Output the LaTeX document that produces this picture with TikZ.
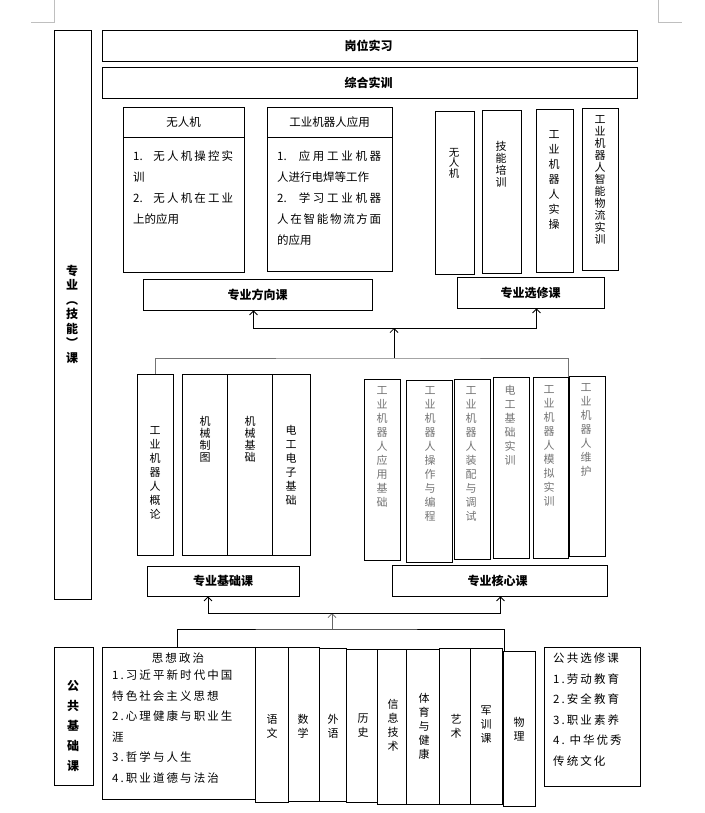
\documentclass[tikz,border=0pt]{standalone}
\usepackage{fontspec}
\setmainfont{Noto Sans CJK SC}
\usetikzlibrary{positioning,fit,arrows.meta}
\XeTeXlinebreaklocale "zh"
\XeTeXlinebreakskip=0pt plus 1pt

\begin{document}
\begin{tikzpicture}[x=1pt, y=-1pt,
cell/.style={draw, line width=0.8pt, inner sep=0pt},
ttl/.style={inner sep=0pt, font=\fontsize{12}{14}\selectfont\bfseries},
hd/.style={inner sep=0pt, font=\fontsize{11.5}{14}\selectfont},
vt/.style={align=center, inner sep=0pt, font=\fontsize{11}{14}\selectfont},
vts/.style={vt, font=\fontsize{11}{12}\selectfont},
core/.style={vt, text=black!55},
lst/.style={anchor=north west, inner sep=0pt, text width=102pt, align=justify, font=\fontsize{11.5}{21}\selectfont},
spf/.style={font=\fontsize{11.5}{20.5}\selectfont\addfontfeature{LetterSpace=18}},
spc/.style={spf, anchor=north west, inner sep=0pt, align=left},
link/.style={line width=0.8pt},
>={Straight Barb[length=4pt,width=8pt]},
]
\useasboundingbox (0,0) rectangle (704,813);

% page corner marks
\draw[black!25] (31,22) -- (54,22) -- (54,0);
\draw[black!25] (658,0) -- (658,22) -- (682,22);

% side labels
\node[cell, fit={(54,30) (91,599)}] (zyk) {};
\node[align=center, inner sep=0pt, font=\fontsize{12}{14.5}\selectfont\bfseries] (zyk-t) at (72,314) {专\\业\\︵\\技\\能\\︶\\课};
\node[cell, fit={(54,647) (93,785)}] (ggjc) {};
\node[align=center, inner sep=0pt, font=\fontsize{12}{20}\selectfont\bfseries] (ggjc-t) at (73,726) {公\\共\\基\\础\\课};

% top rows
\node[cell, fit={(102,30) (637,61)}] (gwsx) {};
\node[ttl] (gwsx-t) at ([xshift=-1pt]gwsx.center) {岗位实习};
\node[cell, fit={(102,67) (637,98)}] (zhsx) {};
\node[ttl] (zhsx-t) at ([xshift=-1pt]zhsx.center) {综合实训};

% direction courses
\node[cell, fit={(123,107) (244,137)}] (wrj) {};
\node[hd] (wrj-t) at (wrj.center) {无人机};
\node[cell, fit={(123,137) (244,272)}] (wrjnr) {};
\node[lst, text width=100pt] (wrjnr-t) at (133,151) {1.\ \ 无人机操控实\linebreak 训\\2.\ \ 无人机在工业\linebreak 上的应用};
\node[cell, fit={(267,107) (392,137)}] (gyyy) {};
\node[hd] (gyyy-t) at (gyyy.center) {工业机器人应用};
\node[cell, fit={(267,137) (392,271)}] (gyyynr) {};
\node[lst, text width=104pt] (gyyynr-t) at (277,151) {1.\ \ 应用工业机器\linebreak 人进行电焊等工作\\2.\ \ 学习工业机器\linebreak 人在智能物流方面\linebreak 的应用};
\node[cell, fit={(143,279) (372,310)}] (fxk) {};
\node[ttl] (fxk-t) at (fxk.center) {专业方向课};

% elective courses
\node[cell, fit={(435,111) (474,274)}] (xx1) {};
\node[vt, font=\fontsize{10.5}{10.5}\selectfont] (xx1-t) at (454,163) {无\\人\\机};
\node[cell, fit={(482,110) (521,273)}] (xx2) {};
\node[vts] (xx2-t) at (501,164) {技\\能\\培\\训};
\node[cell, fit={(536,109) (573,272)}] (xx3) {};
\node[vt, font=\fontsize{11}{15}\selectfont] (xx3-t) at (554,180) {工\\业\\机\\器\\人\\实\\操};
\node[cell, fit={(582,108) (618,270)}] (xx4) {};
\node[vts] (xx4-t) at (600,180) {工\\业\\机\\器\\人\\智\\能\\物\\流\\实\\训};
\node[cell, fit={(457,277) (604,308)}] (xxk) {};
\node[ttl] (xxk-t) at (xxk.center) {专业选修课};

% basic courses
\node[cell, fit={(137,374) (173,555)}] (jc1) {};
\node[vt] (jc1-t) at (155,473) {工\\业\\机\\器\\人\\概\\论};
\node[cell, fit={(182,374) (227,555)}] (jc2) {};
\node[vts] (jc2-t) at (205,439) {机\\械\\制\\图};
\node[cell, fit={(227,374) (272,555)}] (jc3) {};
\node[vts] (jc3-t) at (250,439) {机\\械\\基\\础};
\node[cell, fit={(272,374) (310,555)}] (jc4) {};
\node[vt] (jc4-t) at (291,465) {电\\工\\电\\子\\基\\础};
\node[cell, fit={(147,566) (299,596)}] (jck) {};
\node[ttl] (jck-t) at (jck.center) {专业基础课};

% core courses
\node[cell, fit={(364,379) (400,560)}] (hx1) {};
\node[core] (hx1-t) at (382,447) {工\\业\\机\\器\\人\\应\\用\\基\\础};
\node[cell, fit={(406,380) (452,562)}] (hx2) {};
\node[core] (hx2-t) at (430,454) {工\\业\\机\\器\\人\\操\\作\\与\\编\\程};
\node[cell, fit={(454,379) (490,559)}] (hx3) {};
\node[core] (hx3-t) at (471,454) {工\\业\\机\\器\\人\\装\\配\\与\\调\\试};
\node[cell, fit={(493,377) (529,558)}] (hx4) {};
\node[core] (hx4-t) at (510,425) {电\\工\\基\\础\\实\\训};
\node[cell, fit={(533,377) (568,558)}] (hx5) {};
\node[core] (hx5-t) at (549,446) {工\\业\\机\\器\\人\\模\\拟\\实\\训};
\node[cell, fit={(569,376) (605,556)}] (hx6) {};
\node[core] (hx6-t) at (586,430) {工\\业\\机\\器\\人\\维\\护};
\node[cell, fit={(392,565) (607,596)}] (hxk) {};
\node[ttl] (hxk-t) at ([xshift=-2pt]hxk.center) {专业核心课};

% public courses
\node[cell, fit={(102,647) (255,799)}] (szzz) {};
\node[spf, inner sep=0pt] (szzz-h) at (178,658) {思想政治};
\node[spc] (szzz-t) at (112,670) {1.习近平新时代中国\\特色社会主义思想\\2.心理健康与职业生\\涯\\3.哲学与人生\\4.职业道德与法治};
\node[cell, fit={(255,647) (288,802)}] (yw) {};
\node[vt] (yw-t) at (272,726) {语\\文};
\node[cell, fit={(288,647) (319,801)}] (sx) {};
\node[vt] (sx-t) at (303,726) {数\\学};
\node[cell, fit={(319,648) (346,801)}] (wy) {};
\node[vt] (wy-t) at (333,726) {外\\语};
\node[cell, fit={(346,649) (377,802)}] (ls) {};
\node[vt] (ls-t) at (363,726) {历\\史};
\node[cell, fit={(377,649) (406,804)}] (xxjs) {};
\node[vt] (xxjs-t) at (393,725) {信\\息\\技\\术};
\node[cell, fit={(406,649) (439,804)}] (tyjk) {};
\node[vt] (tyjk-t) at (424,726) {体\\育\\与\\健\\康};
\node[cell, fit={(439,648) (470,804)}] (ys) {};
\node[vt] (ys-t) at (456,726) {艺\\术};
\node[cell, fit={(470,648) (502,804)}] (jxk) {};
\node[vt] (jxk-t) at (486,725) {军\\训\\课};
\node[cell, fit={(503,651) (535,806)}] (wl) {};
\node[vt] (wl-t) at (519,729) {物\\理};
\node[cell, fit={(544,647) (640,786)}] (ggxx) {};
\node[spc] (ggxx-t) at (553,653) {公共选修课\\1.劳动教育\\2.安全教育\\3.职业素养\\4.\ 中华优秀\\传统文化};

% connectors
\coordinate (m1) at (394,358);
\coordinate (m2) at (394,328);
\draw[link, black!55] (jc1.north) |- (m1) -| (hx5.north east);
\draw[link, ->] (m1) -- (m2);
\draw[link, ->] (m2) -| ([xshift=-4pt]fxk.south);
\draw[link, ->] (m2) -| ([xshift=6pt]xxk.south);

\coordinate (b1) at (332,629);
\coordinate (b2) at (332,613);
\draw[link] ([xshift=-1pt]szzz.north) |- (b1) -| ([xshift=2pt]wl.north west);
\draw[link, black!60, ->] (b1) -- (b2);
\draw[link, ->] (b2) -| ([xshift=-15pt]jck.south);
\draw[link, ->] (b2) -| ([xshift=1pt]hxk.south);

\end{tikzpicture}
\end{document}
